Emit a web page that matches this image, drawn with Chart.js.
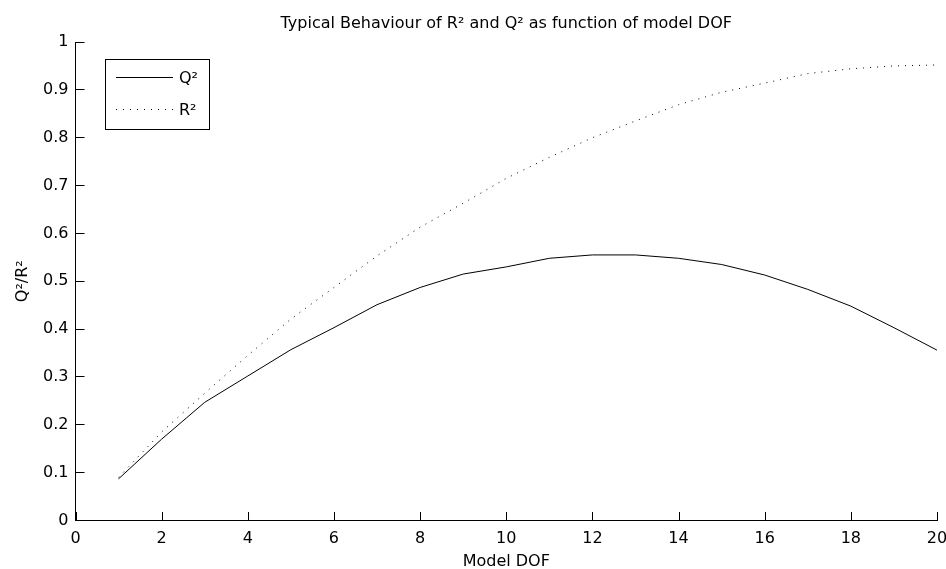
<!DOCTYPE html>
<html>
<head>
<meta charset="utf-8">
<title>Typical Behaviour of R2 and Q2</title>
<script src="https://cdn.jsdelivr.net/npm/chart.js@4.4.1/dist/chart.umd.min.js"></script>
<style>
  html, body { margin: 0; padding: 0; background: #fff; }
  #wrap { width: 946px; height: 569px; position: relative; }
</style>
</head>
<body>
<div id="wrap"><canvas id="myChart"></canvas></div>
<script>
// values
let dof = [1, 2, 3, 4, 5, 6, 7, 8, 9, 10, 11, 12, 13, 14, 15, 16, 17, 18, 19, 20];
let q2 = [0.087, 0.170, 0.247, 0.302, 0.357, 0.403, 0.451, 0.487, 0.515, 0.530,
  0.548, 0.555, 0.555, 0.548, 0.535, 0.513, 0.483, 0.448, 0.403, 0.356];
let r2 = [0.090, 0.185, 0.266, 0.345, 0.421, 0.487, 0.553, 0.613, 0.663, 0.715,
  0.759, 0.800, 0.835, 0.869, 0.895, 0.914, 0.934, 0.944, 0.950, 0.952];
let xTicks = [0, 2, 4, 6, 8, 10, 12, 14, 16, 18, 20];
let yTicks = [0, 0.1, 0.2, 0.3, 0.4, 0.5, 0.6, 0.7, 0.8, 0.9, 1];

let fontFamily = "'DejaVu Sans', sans-serif";
let fontSize = 16;
let tickLen = 9; // ticks point into the plot, matlab style

Chart.defaults.font.family = fontFamily;
Chart.defaults.font.size = fontSize;
Chart.defaults.color = "#000";

function toPoints(xs, ys) {
  return xs.map((x, i) => ({ x: x, y: ys[i] }));
}

// x tick marks drawn by hand, through the x scale
let xTickMarks = {
  id: "xTickMarks",
  afterDraw(chart) {
    let ctx = chart.ctx;
    let xs = chart.scales.x;
    let bottom = Math.round(chart.chartArea.bottom);
    ctx.save();
    ctx.strokeStyle = "#000";
    ctx.lineWidth = 1;
    ctx.beginPath();
    xTicks.forEach((t) => {
      let px = Math.round(xs.getPixelForValue(t)) + 0.5;
      ctx.moveTo(px, bottom);
      ctx.lineTo(px, bottom - tickLen);
    });
    ctx.stroke();
    ctx.restore();
  },
};

// boxed legend in the top left corner of the axes
let boxLegend = {
  id: "boxLegend",
  afterDraw(chart) {
    let ctx = chart.ctx;
    let area = chart.chartArea;
    let x0 = Math.round(area.left + 29);
    let y0 = Math.round(area.top + 17);
    let w = 104;
    let h = 70;
    ctx.save();
    ctx.fillStyle = "#fff";
    ctx.fillRect(x0, y0, w, h);
    ctx.strokeStyle = "#000";
    ctx.lineWidth = 1;
    ctx.strokeRect(x0 + 0.5, y0 + 0.5, w, h);
    ctx.font = fontSize + "px " + fontFamily;
    ctx.textBaseline = "middle";
    ctx.textAlign = "left";
    chart.data.datasets.forEach((ds, i) => {
      let ly = y0 + 18 + i * 32 + 0.5;
      ctx.beginPath();
      ctx.setLineDash(ds.borderDash || []);
      ctx.strokeStyle = ds.borderColor;
      ctx.lineWidth = ds.borderWidth;
      ctx.moveTo(x0 + 11, ly);
      ctx.lineTo(x0 + 68, ly);
      ctx.stroke();
      ctx.setLineDash([]);
      ctx.fillStyle = "#000";
      ctx.fillText(ds.label, x0 + 74, ly + 1);
    });
    ctx.restore();
  },
};

let chartInstance = new Chart(document.getElementById("myChart"), {
  type: "line",
  data: {
    datasets: [
      {
        label: "Q\u00b2",
        data: toPoints(dof, q2),
        borderColor: "#000",
        borderWidth: 1,
        pointRadius: 0,
        tension: 0,
        fill: false,
      },
      {
        label: "R\u00b2",
        data: toPoints(dof, r2),
        borderColor: "#000",
        borderWidth: 1,
        borderDash: [1, 6],
        pointRadius: 0,
        tension: 0,
        fill: false,
      },
    ],
  },
  options: {
    responsive: true,
    maintainAspectRatio: false,
    animation: false,
    layout: { padding: { left: 0, right: 0, top: 0, bottom: 0 } },
    plugins: {
      legend: { display: false },
      tooltip: { enabled: false },
      title: {
        display: true,
        fullSize: false,
        text: "Typical Behaviour of R\u00b2 and Q\u00b2 as function of model DOF",
        color: "#000",
        font: { size: fontSize, weight: "normal" },
        padding: { top: 14, bottom: 8.8 },
      },
    },
    scales: {
      x: {
        type: "linear",
        min: 0,
        max: 20,
        afterBuildTicks(scale) {
          scale.ticks = xTicks.map((v) => ({ value: v }));
        },
        afterFit(scale) {
          scale.height = 48.5;
          scale.paddingLeft = 0;
          scale.paddingRight = 9;
        },
        ticks: {
          padding: 1,
          maxRotation: 0,
          autoSkip: false,
          callback: (v) => String(v),
        },
        grid: { display: false },
        border: { display: true, color: "#000", width: 1 },
        title: {
          display: true,
          text: "Model DOF",
          padding: { top: 0, bottom: -2 },
        },
      },
      y: {
        min: 0,
        max: 1,
        afterBuildTicks(scale) {
          scale.ticks = yTicks.map((v) => ({ value: v }));
        },
        afterFit(scale) {
          scale.width = 75.5;
        },
        ticks: {
          padding: 7 + tickLen,
          autoSkip: false,
          callback: (v) => String(Math.round(v * 10) / 10),
        },
        grid: {
          display: true,
          drawOnChartArea: false,
          drawTicks: true,
          tickLength: -tickLen,
          color: "#000",
        },
        border: { display: true, color: "#000", width: 1 },
        title: {
          display: true,
          text: "Q\u00b2/R\u00b2",
          padding: { top: 13, bottom: 0 },
        },
      },
    },
  },
  plugins: [xTickMarks, boxLegend],
});
</script>
</body>
</html>
